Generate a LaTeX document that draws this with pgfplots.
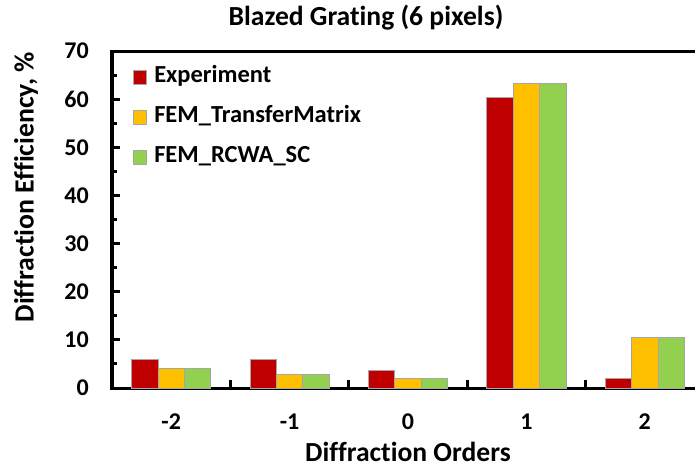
\documentclass[border=0pt]{standalone}
\usepackage{fontspec}
\setmainfont{Carlito}[Ligatures=NoCommon]
\usepackage{pgfplots}
\pgfplotsset{compat=1.18}
\definecolor{cRed}{HTML}{C00000}
\definecolor{cYel}{HTML}{FFC000}
\definecolor{cGrn}{HTML}{92D050}
\definecolor{cOut}{HTML}{A6A6A6}
\begin{document}
\begin{tikzpicture}
\begin{axis}[
  scale only axis,
  width=592pt, height=337pt,
  xmin=-0.5, xmax=4.5, ymin=0, ymax=70,
  ybar=0pt, bar width=26.4pt,
  axis line style={line width=3pt, black},
  tick style={line width=3pt, black},
  tick align=inside,
  tick pos=left,
  major tick length=8pt,
  minor tick length=5pt,
  ytick={0,10,...,70},
  minor y tick num=1,
  xtick={0.5,1.5,2.5,3.5},
  xticklabels={},
  extra x ticks={0,1,2,3,4},
  extra x tick labels={-2,-1,0,1,2},
  extra x tick style={major tick length=0pt},
  /pgf/number format/assume math mode=true,
  yticklabel style={font=\bfseries\fontsize{24}{24}\selectfont, anchor=east, inner sep=0pt, xshift=-23pt},
  xticklabel style={font=\bfseries\fontsize{24}{24}\selectfont, anchor=base, inner sep=0pt, yshift=-41pt},
  title={Blazed Grating (6 pixels)},
  title style={font=\bfseries\fontsize{27.6}{27.6}\selectfont, at={(axis description cs:0.429,1)}, anchor=base, inner sep=0pt, yshift=20pt},
  xlabel={Diffraction Orders},
  xlabel style={font=\bfseries\fontsize{27.6}{27.6}\selectfont, at={(axis description cs:0.5,0)}, anchor=base, inner sep=0pt, yshift=-73pt},
  ylabel={Diffraction Efficiency, \%},
  ylabel style={font=\bfseries\fontsize{27.8}{27.8}\selectfont, at={(axis description cs:-0.1453,0.596)}, anchor=center, inner sep=0pt},
  legend cell align=left,
  legend image code/.code={\fill[#1] (0pt,-6.65pt) rectangle (13.3pt,6.65pt);},
  legend style={at={(axis description cs:0,1)}, anchor=north west, xshift=20.7pt, yshift=-17.3pt,
    draw=none, fill=none, inner sep=0pt, column sep=7.3pt, row sep=22pt,
    font=\bfseries\fontsize{24.5}{24.5}\selectfont,
    nodes={inner sep=0pt, text height=14pt, text depth=4pt}},
]
\addplot[fill=cRed, draw=cOut, line width=0.75pt] coordinates {(0,6.0) (1,6.0) (2,3.6) (3,60.4) (4,2.0)};
\addplot[fill=cYel, draw=cOut, line width=0.75pt] coordinates {(0,4.1) (1,2.85) (2,1.9) (3,63.2) (4,10.5)};
\addplot[fill=cGrn, draw=cOut, line width=0.75pt] coordinates {(0,4.1) (1,2.85) (2,1.9) (3,63.2) (4,10.5)};
\legend{Experiment, FEM\_TransferMatrix, FEM\_RCWA\_SC}
\end{axis}
\pgfresetboundingbox
\path[use as bounding box] (-112pt,-79pt) rectangle (583pt,388pt);
\end{tikzpicture}
\end{document}
